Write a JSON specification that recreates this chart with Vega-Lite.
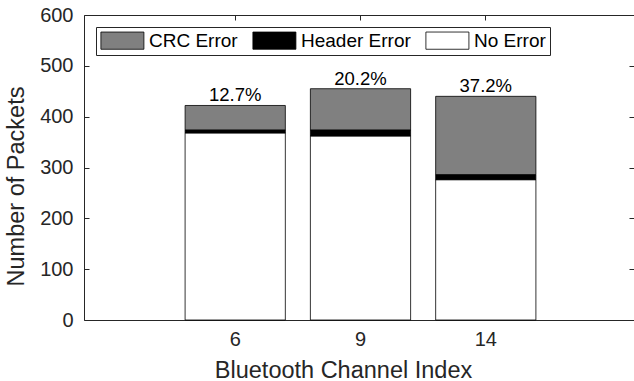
{
  "$schema": "https://vega.github.io/schema/vega-lite/v6.json",
  "width": 550,
  "height": 305,
  "autosize": "none",
  "padding": {"left": 84, "top": 15, "right": 0, "bottom": 61},
  "background": "white",
  "config": {
    "view": {"stroke": null},
    "font": "Liberation Sans",
    "axis": {"domainColor": "#262626", "tickColor": "#262626", "labelColor": "#262626", "titleColor": "#262626", "grid": false, "domainWidth": 1, "tickWidth": 1}
  },
  "datasets": {
    "counts": [
      {"channel": 6, "type": "No Error", "count": 368},
      {"channel": 6, "type": "Header Error", "count": 6},
      {"channel": 6, "type": "CRC Error", "count": 48},
      {"channel": 9, "type": "No Error", "count": 362},
      {"channel": 9, "type": "Header Error", "count": 12},
      {"channel": 9, "type": "CRC Error", "count": 81},
      {"channel": 14, "type": "No Error", "count": 276},
      {"channel": 14, "type": "Header Error", "count": 10},
      {"channel": 14, "type": "CRC Error", "count": 154}
    ],
    "summary": [
      {"channel": 6, "total": 422, "label": "12.7%"},
      {"channel": 9, "total": 455, "label": "20.2%"},
      {"channel": 14, "total": 440, "label": "37.2%"}
    ]
  },
  "layer": [
    {
      "data": {"name": "counts"},
      "mark": {"type": "bar", "stroke": "#000000", "strokeWidth": 0.8},
      "encoding": {
        "x": {
          "field": "channel", "type": "ordinal",
          "scale": {"range": [0, 553], "paddingInner": 0.2, "paddingOuter": 0.807},
          "axis": {
            "orient": "bottom", "labelAngle": 0, "labelFontSize": 20, "labelPadding": 14,
            "tickSize": -5, "title": "Bluetooth Channel Index", "titleFontSize": 23.5,
            "titleFontWeight": "normal", "titleX": 259, "titleY": 57, "titleBaseline": "alphabetic"
          }
        },
        "y": {
          "field": "count", "type": "quantitative", "stack": "zero",
          "scale": {"domain": [0, 600], "nice": false},
          "axis": {
            "orient": "left", "values": [0, 100, 200, 300, 400, 500, 600],
            "labelFontSize": 20, "labelPadding": 16, "tickSize": -5,
            "title": "Number of Packets", "titleFontSize": 23.5, "titleFontWeight": "normal",
            "titleX": -61, "titleY": 171, "titleBaseline": "alphabetic", "titleAngle": -90
          }
        },
        "color": {
          "field": "type", "type": "nominal",
          "scale": {"domain": ["CRC Error", "Header Error", "No Error"], "range": ["#808080", "#000000", "#ffffff"]},
          "legend": {
            "orient": "none", "legendX": 12, "legendY": 12, "direction": "horizontal",
            "title": null, "padding": 4, "strokeColor": "#262626", "fillColor": "#ffffff",
            "labelFontSize": 19, "labelColor": "#000000", "labelOffset": 30, "columnPadding": 13,
            "symbolType": "M-1,-1L4,-1L4,1L-1,1Z", "symbolSize": 296,
            "symbolStrokeColor": "#000000", "symbolStrokeWidth": 0.8, "symbolOpacity": 1
          }
        },
        "order": {"field": "type", "sort": "descending"}
      }
    },
    {
      "data": {"name": "summary"},
      "mark": {"type": "text", "dy": -4, "baseline": "alphabetic", "fontSize": 18.5, "color": "#000000"},
      "encoding": {
        "x": {
          "field": "channel", "type": "ordinal",
          "axis": {"orient": "top", "labels": false, "tickSize": -5, "title": null, "domain": true}
        },
        "y": {
          "field": "total", "type": "quantitative",
          "scale": {"domain": [0, 600], "nice": false},
          "axis": {"orient": "right", "labels": false, "tickSize": -5, "title": null, "domain": false, "values": [0, 100, 200, 300, 400, 500, 600]}
        },
        "text": {"field": "label"}
      }
    }
  ],
  "resolve": {"axis": {"x": "independent", "y": "independent"}}
}
